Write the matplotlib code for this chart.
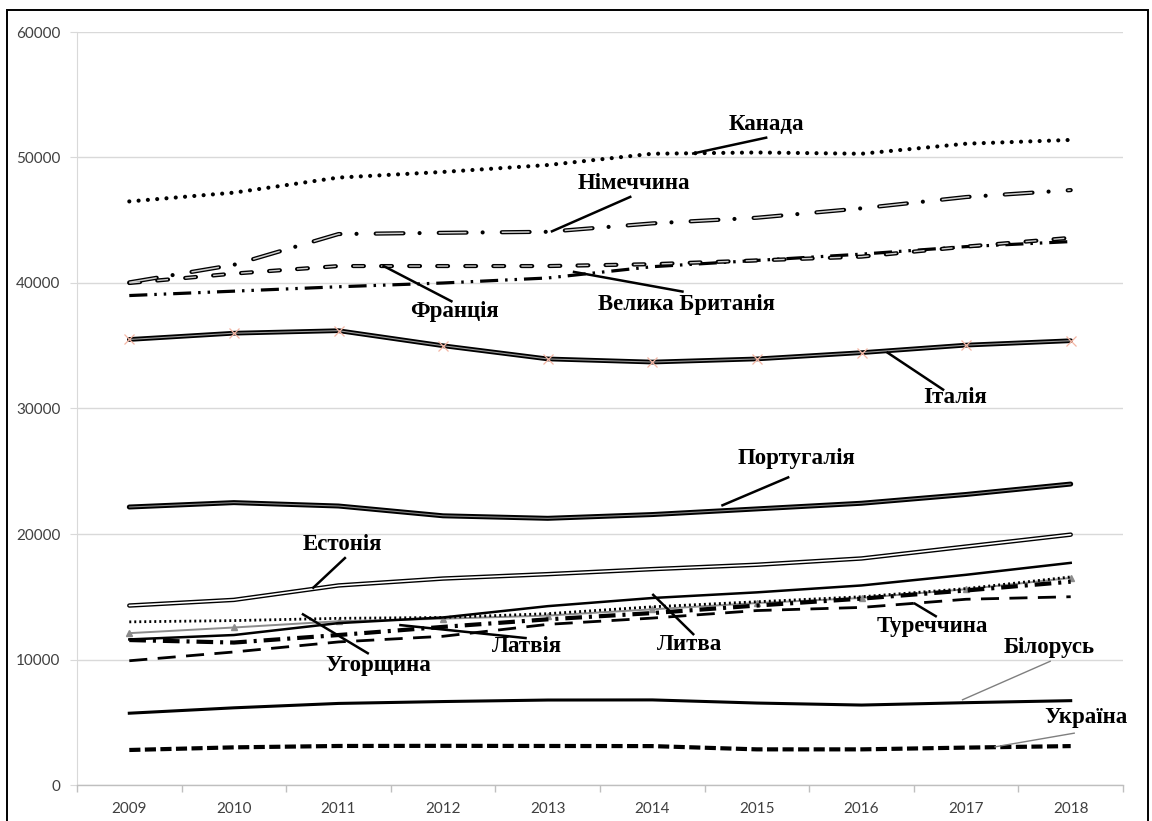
import matplotlib
matplotlib.use("Agg")
import matplotlib.pyplot as plt
from matplotlib.patches import Rectangle
import numpy as np

plt.rcParams['lines.scale_dashes'] = False

years = ['2009', '2010', '2011', '2012', '2013', '2014', '2015', '2016', '2017', '2018']

canada   = [46500, 47200, 48400, 48850, 49400, 50300, 50400, 50300, 51100, 51400]
germany  = [40050, 41450, 43900, 44000, 44080, 44750, 45200, 45950, 46850, 47400]
france   = [40000, 40750, 41350, 41350, 41350, 41500, 41800, 42100, 42900, 43600]
uk       = [39000, 39350, 39700, 40000, 40400, 41300, 41800, 42300, 42900, 43300]
italy    = [35500, 36000, 36200, 35000, 33950, 33700, 33950, 34450, 35050, 35400]
portugal = [22150, 22500, 22230, 21450, 21250, 21550, 22000, 22450, 23150, 23980]
estonia  = [14300, 14750, 15900, 16450, 16800, 17200, 17550, 18050, 19000, 19950]
lithuania= [11600, 11950, 12900, 13350, 14250, 14900, 15350, 15900, 16750, 17700]
hungary  = [13000, 13100, 13280, 13350, 13650, 14200, 14600, 15000, 15650, 16580]
poland   = [12100, 12550, 13050, 13250, 13500, 14000, 14500, 14900, 15600, 16500]
latvia   = [11550, 11350, 11950, 12600, 13200, 13700, 14300, 14850, 15500, 16200]
turkey   = [9900, 10600, 11400, 11850, 12800, 13300, 13900, 14150, 14800, 15000]
belarus  = [5720, 6150, 6500, 6650, 6770, 6780, 6530, 6370, 6560, 6720]
ukraine  = [2790, 3000, 3110, 3120, 3110, 3100, 2840, 2840, 2980, 3100]

y_ticks = [0, 10000, 20000, 30000, 40000, 50000, 60000]

# label text, label centre (x index, value), leader start, leader end, leader colour
labels = [
    ('Канада',          (6.09, 52650), (5.38, 50300), (6.10, 51600), 'black'),
    ('Німеччина',       (4.82, 47950), (4.03, 44080), (4.80, 46900), 'black'),
    ('Франція',         (3.11, 37700), (2.42, 41400), (3.09, 38500), 'black'),
    ('Велика Британія', (5.33, 38250), (4.24, 40900), (5.30, 39300), 'black'),
    ('Італія',          (7.89, 30900), (7.24, 34500), (7.79, 31450), 'black'),
    ('Португалія',      (6.38, 26050), (5.66, 22250), (6.31, 24550), 'black'),
    ('Естонія',         (2.04, 19200), (1.75, 15650), (2.07, 18150), 'black'),
    ('Угорщина',        (2.38, 9550),  (1.65, 13650), (2.29, 10450), 'black'),
    ('Латвія',          (3.80, 11000), (2.58, 12750), (3.80, 11700), 'black'),
    ('Литва',           (5.36, 11230), (5.00, 15220), (5.40, 11950), 'black'),
    ('Туреччина',       (7.68, 12600), (7.50, 14500), (7.72, 13400), 'black'),
    ('Білорусь',        (8.79, 10920), (7.96, 6770),  (8.81, 9880),  '#7f7f7f'),
    ('Україна',         (9.15, 5340),  (8.27, 3030),  (9.04, 4140),  '#7f7f7f'),
]

W, H = 1152, 821
fig = plt.figure(figsize=(W / 100, H / 100), dpi=100)
ax = fig.add_axes([77 / W, (H - 785) / H, (1123 - 77) / W, (785 - 32) / H])

x = np.arange(len(years))

def plot_double(vals, lw_out, lw_in, inner_color, ls_out='-', ls_in='-', z=3,
                cap_out='round'):
    ax.plot(x, vals, color='black', lw=lw_out, linestyle=ls_out,
            dash_capstyle=cap_out, solid_capstyle='round', zorder=z)
    ax.plot(x, vals, color=inner_color, lw=lw_in, linestyle=ls_in,
            dash_capstyle='butt', solid_capstyle='round', zorder=z + 0.1)

# Canada - round dots
ax.plot(x, canada, color='black', lw=3.0, linestyle=(0, (0.01, 6.7)),
        dash_capstyle='round', zorder=3)
# Germany - double dash-dot
plot_double(germany, 3.0, 1.1, '#cfcfcf',
            ls_out=(0, (20, 11.6, 0.01, 13.8)), ls_in=(0, (20, 25.4)))
# France - double short dash
plot_double(france, 3.0, 1.0, '#cfcfcf',
            ls_out=(0, (7.8, 12.4)), ls_in=(0, (7.8, 12.4)))
# UK - dash-dot-dot
ax.plot(x, uk, color='black', lw=2.3, linestyle=(0, (13, 5, 1.8, 5, 1.8, 5)),
        dash_capstyle='butt', zorder=3)
# Italy - double solid with faint markers
plot_double(italy, 3.4, 0.8, '#9a9a9a')
ax.plot(x, italy, linestyle='none', marker='x', ms=7, mew=0.9,
        color='#f4b6a4', zorder=4)
# Portugal
plot_double(portugal, 3.6, 0.8, '#8a8a8a')
# Estonia - hollow double line
plot_double(estonia, 3.2, 1.2, 'white')
# Lithuania - solid
ax.plot(x, lithuania, color='black', lw=1.8, zorder=3)
# Poland (unlabelled) - grey with triangles
ax.plot(x, poland, color='#8c8c8c', lw=1.4, marker='^', ms=5, zorder=2.5)
# Hungary - small dots
ax.plot(x, hungary, color='black', lw=2.0, linestyle=(0, (1.4, 2.2)),
        dash_capstyle='butt', zorder=3)
# Latvia - thick dash-dot
ax.plot(x, latvia, color='black', lw=3.0, linestyle=(0, (12, 5, 2.2, 5)),
        dash_capstyle='butt', zorder=3)
# Turkey - long dash
ax.plot(x, turkey, color='black', lw=2.0, linestyle=(0, (13, 7.5)),
        dash_capstyle='butt', zorder=3)
# Belarus - solid
ax.plot(x, belarus, color='black', lw=2.2, zorder=3)
# Ukraine - thick short dash
ax.plot(x, ukraine, color='black', lw=3.0, linestyle=(0, (8, 3.2)),
        dash_capstyle='butt', zorder=3)

for text, pos, p0, p1, lc in labels:
    lw = 1.0 if lc != 'black' else 1.8
    ax.plot([p0[0], p1[0]], [p0[1], p1[1]], color=lc, lw=lw, zorder=5,
            solid_capstyle='butt')
    ax.text(pos[0], pos[1], text, ha='center', va='center', fontsize=16.5,
            fontweight='bold', family='Liberation Serif', color='black', zorder=6)

# axes styling
ax.set_xlim(-0.5, len(years) - 0.5)
ax.set_ylim(0, 60000)
ax.set_yticks(y_ticks)
ax.set_yticklabels([str(v) for v in y_ticks])
ax.set_xticks(x)
ax.set_xticklabels(years)
ax.set_xticks(np.arange(-0.5, len(years), 1.0), minor=True)
ax.grid(axis='y', color='#d9d9d9', lw=1.0, zorder=0)
ax.set_axisbelow(True)
for s in ['top', 'right']:
    ax.spines[s].set_visible(False)
ax.spines['left'].set_color('#d9d9d9')
ax.spines['bottom'].set_color('#bfbfbf')
ax.spines['bottom'].set_linewidth(1.0)
ax.tick_params(axis='x', which='major', length=0, pad=12, labelsize=11,
               labelcolor='#404040')
ax.tick_params(axis='x', which='minor', length=5, color='#bfbfbf', width=1)
ax.tick_params(axis='y', length=5, color='#d9d9d9', pad=7, labelsize=11,
               labelcolor='#404040')
for lab in ax.get_xticklabels() + ax.get_yticklabels():
    lab.set_family('Lato')

# outer frame
fig.patches.append(Rectangle((7 / W, -0.01), (1148 - 7) / W, (H - 10) / H + 0.01,
                             transform=fig.transFigure, fill=False,
                             edgecolor='black', lw=1.4))

fig.savefig('out.png', dpi=100)
